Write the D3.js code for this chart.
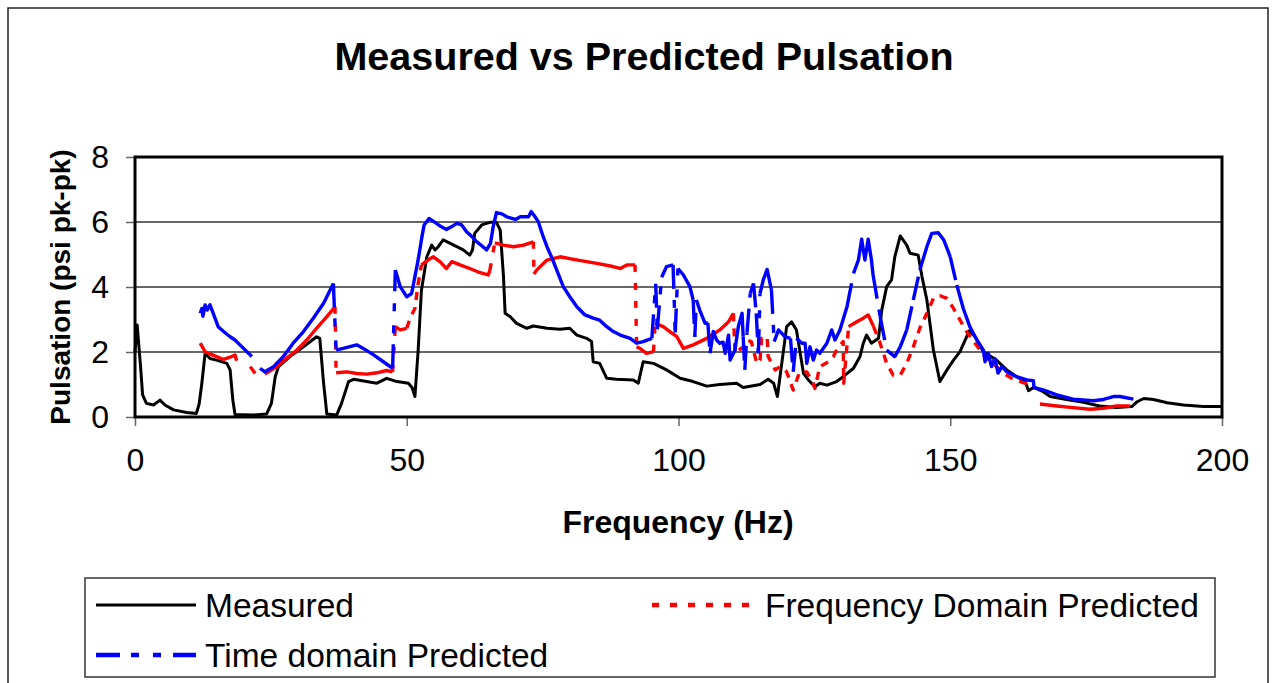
<!DOCTYPE html>
<html lang="en">
<head>
<meta charset="UTF-8">
<title>Measured vs Predicted Pulsation</title>
<script src="https://cdnjs.cloudflare.com/ajax/libs/d3/7.8.5/d3.min.js"></script>
<style>
  body { margin: 0; padding: 0; background: #fff; overflow: hidden; }
  svg { display: block; font-family: Arial, "Liberation Sans", sans-serif; }
</style>
</head>
<body>
<svg id="chart" width="1277" height="683"></svg>
<script>
  // [frequency Hz, pulsation psi pk-pk]; null value = break in the series
  const measured = [
    [0,2.0],[0.4,2.83],[1.0,1.6],[1.4,0.68],[2.1,0.42],[3.4,0.37],[4.6,0.52],[5.5,0.37],[7.1,0.22],
    [9.5,0.14],[11.3,0.11],[11.8,0.4],[12.3,1.04],[12.9,1.96],[13.8,1.8],[15.0,1.75],[16.9,1.65],
    [17.5,1.45],[18.0,0.52],[18.4,0.08],[21.8,0.06],[24.2,0.09],[25.1,0.42],[25.8,1.24],[26.4,1.55],
    [28.5,1.86],[31.0,2.16],[33.4,2.47],[34.0,2.42],[34.7,1.04],[35.3,0.09],[37.1,0.06],[38.0,0.42],
    [39.3,1.09],[40.2,1.16],[42.6,1.09],[44.5,1.04],[46.3,1.19],[48.2,1.09],[50.3,1.04],[51.0,0.9],
    [51.5,0.63],[52.1,2.06],[52.7,3.9],[53.7,4.93],[54.6,5.29],[55.2,5.14],[55.8,5.24],[56.7,5.45],
    [58.0,5.34],[59.2,5.24],[60.4,5.14],[61.6,4.98],[62.1,5.14],[62.5,5.65],[63.8,5.91],[65.3,5.99],
    [66.5,5.99],[67.2,5.75],[67.8,4.32],[68.1,3.19],[69.0,3.09],[70.2,2.88],[72.1,2.73],[73.3,2.8],
    [75.8,2.73],[78.2,2.7],[80.0,2.73],[81.3,2.52],[83.1,2.42],[84.0,2.32],[84.3,1.7],[85.5,1.65],
    [86.8,1.19],[88.6,1.16],[91.7,1.14],[92.6,1.04],[93.5,1.7],[95.4,1.65],[97.8,1.45],[100.3,1.19],
    [102.7,1.09],[105.2,0.95],[107.6,1.0],[110.7,1.04],[111.9,0.91],[115.0,1.0],[116.5,1.16],
    [117.5,1.04],[118.2,0.63],[119.0,1.65],[119.9,2.78],[120.8,2.93],[121.7,2.68],[122.3,2.06],
    [123.0,1.34],[123.9,1.14],[125.1,0.93],[126.0,1.04],[127.3,0.98],[129.1,1.09],[130.3,1.24],
    [132.2,1.5],[133.4,1.86],[134.0,2.27],[134.6,2.52],[135.5,2.27],[136.8,2.42],[137.4,3.29],
    [138.3,4.01],[139.2,4.22],[139.8,4.93],[140.8,5.57],[142.0,5.29],[142.6,5.04],[144.1,4.98],
    [144.8,4.32],[145.7,3.6],[146.9,2.06],[148.1,1.09],[149.4,1.45],[150.6,1.75],[151.8,2.01],
    [153.5,2.65],[154.6,2.47],[156.1,2.01],[158.5,1.75],[160.4,1.45],[162.2,1.24],[163.8,1.09],
    [164.4,0.81],[165.3,0.91],[167.1,0.78],[168.4,0.63],[171.4,0.54],[174.5,0.45],[177.5,0.34],
    [180.6,0.29],[183.4,0.32],[184.4,0.47],[185.6,0.57],[187.4,0.54],[189.9,0.44],[192.9,0.37],
    [196.6,0.32],[200,0.32]
  ];

  const freqPredicted = [
    [12.0,2.27],[12.9,2.01],[13.8,1.94],[15.0,1.86],[16.3,1.77],[17.5,1.84],[18.4,1.91],[18.7,1.73],
    [19.5,null],[21.2,1.55],[22.1,1.34],[23.0,null],
    [23.9,1.32],[26.1,1.55],[27.9,1.81],[29.8,2.06],[31.6,2.37],[33.4,2.73],[35.3,3.09],[36.8,3.39],
    [37.0,1.36],[39.0,1.39],[40.8,1.34],[42.6,1.32],[44.5,1.36],[46.3,1.43],[47.4,1.39],[47.9,2.78],
    [48.8,2.68],[50.0,2.73],[50.6,3.04],[51.5,3.34],[52.1,4.11],[52.7,4.68],[53.9,4.83],[54.9,4.93],
    [56.1,4.78],[57.3,4.57],[58.3,4.78],[59.8,4.68],[61.6,4.57],[63.5,4.44],[65.0,4.37],[65.3,4.52],
    [66.2,5.36],[67.8,5.29],[69.6,5.24],[71.5,5.29],[73.3,5.39],[73.4,4.4],[73.9,4.52],[75.8,4.83],
    [78.2,4.93],[80.7,4.85],[83.1,4.78],[85.5,4.71],[87.9,4.63],[89.3,4.57],[90.5,4.68],[92.0,4.68],
    [92.3,2.16],[93.0,2.1],[94.1,1.96],[95.4,2.01],[95.7,2.88],[97.2,2.78],[98.4,2.63],[99.7,2.47],
    [100.9,2.11],[102.7,2.22],[105.2,2.42],[107.6,2.68],[109.2,2.93],[110.1,3.19],[110.4,1.96],
    [111.9,2.16],[112.5,2.37],[113.4,2.32],[114.4,1.65],[115.0,1.75],[115.3,2.42],[116.3,2.47],
    [116.5,1.86],[117.8,1.45],[118.7,1.55],[119.9,1.39],[121.1,0.83],[122.3,1.39],[123.6,1.39],
    [124.8,1.04],[125.1,0.88],[126.0,1.55],[127.6,1.7],[128.5,1.86],[129.1,2.06],[130.3,2.32],
    [130.4,1.04],[131.3,2.78],[132.8,2.93],[134.0,3.04],[134.9,3.14],[135.9,2.78],[137.1,2.27],
    [138.3,1.65],[139.5,1.29],[140.8,1.29],[142.0,1.65],[143.2,2.16],[144.4,2.73],[145.7,3.19],
    [146.9,3.65],[148.1,3.73],[149.4,3.65],[150.6,3.34],[151.8,2.98],[153.0,2.63],[154.3,2.32],
    [155.5,2.06],[156.1,1.91],[157.9,1.65],[159.8,1.34],[161.6,1.16],[163.4,1.06],[164.9,0.98],
    [165.7,null],[166.5,0.4],[169.6,0.34],[172.6,0.29],[175.7,0.24],[178.2,0.27],[180.6,0.34],[183.1,0.34]
  ];

  const timePredicted = [
    [12.0,3.19],[12.3,3.34],[12.5,3.1],[12.9,3.45],[13.3,3.29],[13.8,3.45],[14.4,3.19],[15.3,2.78],
    [16.3,2.63],[17.5,2.47],[18.4,2.37],[19.3,2.22],[20.6,2.01],[21.5,1.86],[22.2,null],
    [23.0,1.5],[23.9,1.39],[25.5,1.55],[27.3,1.86],[29.1,2.27],[31.0,2.63],[32.8,3.04],[34.7,3.5],
    [36.5,4.11],[37.0,2.06],[38.3,2.11],[40.8,2.22],[42.0,2.11],[43.9,1.91],[45.7,1.7],[47.4,1.5],
    [47.9,4.52],[48.8,4.01],[50.0,3.7],[50.9,3.8],[51.5,4.32],[52.0,4.75],[52.4,5.14],[52.8,5.55],
    [53.2,5.91],[54.1,6.11],[55.0,6.01],[56.3,5.86],[57.3,5.77],[58.3,5.86],[59.2,5.96],[60.1,5.91],
    [61.0,5.7],[62.0,5.55],[62.9,5.39],[63.8,5.27],[64.7,5.14],[65.4,5.34],[65.9,5.85],[66.5,6.29],
    [67.5,6.25],[68.4,6.16],[70.0,6.08],[70.9,6.16],[72.4,6.16],[72.9,6.32],[73.6,6.16],[74.2,6.01],
    [75.0,5.6],[75.8,5.24],[76.7,4.9],[77.6,4.52],[78.8,4.01],[80.0,3.7],[81.3,3.39],[82.8,3.14],
    [84.3,3.04],[85.5,2.98],[86.8,2.78],[88.0,2.63],[89.3,2.52],[91.1,2.42],[92.3,2.27],[93.5,2.32],
    [95.1,2.42],[95.8,4.1],[96.1,2.7],[96.9,4.3],[97.8,4.63],[99.0,4.68],[99.4,2.6],[99.9,4.57],
    [100.9,4.37],[102.1,4.01],[102.7,3.6],[103.0,2.47],[103.3,3.6],[103.9,3.29],[104.9,2.88],
    [105.4,2.9],[105.8,1.96],[106.4,2.63],[107.0,2.37],[107.6,2.27],[108.2,2.3],[108.6,1.96],
    [109.2,2.52],[109.5,1.75],[110.4,2.06],[111.0,2.78],[111.7,3.19],[111.9,2.47],[112.2,1.45],
    [112.6,2.6],[113.2,3.8],[113.8,4.11],[114.3,3.19],[114.7,1.96],[115.0,3.8],[115.6,4.22],
    [116.3,4.54],[117.1,3.91],[117.6,2.32],[118.4,2.68],[119.6,2.47],[120.6,2.42],[121.1,1.39],
    [121.7,2.42],[122.7,2.27],[123.3,2.27],[123.6,1.65],[124.2,2.16],[124.8,1.75],[125.4,2.06],
    [126.0,1.96],[127.3,2.27],[128.2,2.68],[128.8,2.37],[129.7,2.68],[131.0,3.39],[132.2,4.42],
    [133.1,4.83],[133.7,5.47],[134.3,4.83],[134.9,5.47],[135.5,4.83],[135.8,4.37],[137.1,3.09],
    [138.3,2.06],[139.8,1.86],[140.8,2.16],[142.0,2.68],[143.2,3.6],[144.4,4.52],[145.7,5.24],
    [146.6,5.65],[147.8,5.67],[148.8,5.45],[150.0,4.93],[151.2,4.06],[152.4,3.34],[153.6,2.78],
    [154.9,2.37],[156.1,2.06],[156.4,1.7],[157.0,1.96],[157.6,1.55],[158.2,1.8],[158.8,1.35],
    [159.5,1.55],[160.4,1.39],[162.2,1.24],[164.1,1.14],[165.3,1.12],[165.4,0.91],[167.2,0.83],
    [169.6,0.68],[172.6,0.55],[176.3,0.5],[178.2,0.54],[180.0,0.63],[181.2,0.63],[183.7,0.55]
  ];

  const xTicks = [0, 50, 100, 150, 200];
  const yTicks = [0, 2, 4, 6, 8];
  const legendLabels = ["Measured", "Frequency Domain Predicted", "Time domain Predicted"];

  // stretches where the red series shows as dots in the original
  const redDottedRanges = [[50.3, 52.8], [110.0, 131.5], [135.5, 165.0]];

  const svg = d3.select("#chart");
  const plot = { left: 135, right: 1222, top: 157, bottom: 417 };

  const x = d3.scaleLinear().domain([0, 200]).range([plot.left, plot.right]);
  const y = d3.scaleLinear().domain([0, 8]).range([plot.bottom, plot.top]);

  // outer chart frame
  svg.append("rect")
    .attr("x", 8).attr("y", 8).attr("width", 1260).attr("height", 700)
    .attr("fill", "#fff").attr("stroke", "#222").attr("stroke-width", 1.5);

  // title
  svg.append("text")
    .attr("x", 644).attr("y", 70)
    .attr("text-anchor", "middle")
    .attr("font-size", 39.5).attr("font-weight", "bold")
    .text("Measured vs Predicted Pulsation");

  // gridlines
  svg.append("g")
    .selectAll("line")
    .data(yTicks.filter(d => d > 0 && d < 8))
    .join("line")
    .attr("x1", plot.left).attr("x2", plot.right)
    .attr("y1", d => y(d)).attr("y2", d => y(d))
    .attr("stroke", "#333").attr("stroke-width", 1.5);

  // axes
  const xAxis = svg.append("g")
    .attr("transform", `translate(0,${plot.bottom})`)
    .call(d3.axisBottom(x).tickValues(xTicks).tickSize(9).tickPadding(22));
  const yAxis = svg.append("g")
    .attr("transform", `translate(${plot.left},0)`)
    .call(d3.axisLeft(y).tickValues(yTicks).tickSize(9).tickPadding(17));
  [xAxis, yAxis].forEach(g => {
    g.select(".domain").remove();
    g.selectAll(".tick line").attr("stroke", "#666").attr("stroke-width", 1.5);
    g.selectAll(".tick text")
      .attr("font-size", 32).attr("fill", "#000")
      .attr("font-family", "Arial, 'Liberation Sans', sans-serif");
  });

  // axis titles
  svg.append("text")
    .attr("x", 678).attr("y", 533)
    .attr("text-anchor", "middle")
    .attr("font-size", 32).attr("font-weight", "bold")
    .text("Frequency (Hz)");
  svg.append("text")
    .attr("transform", "translate(70,287) rotate(-90)")
    .attr("text-anchor", "middle")
    .attr("font-size", 28).attr("font-weight", "bold")
    .text("Pulsation (psi pk-pk)");

  // series drawing: pattern restarts on each long segment, like the spreadsheet renderer
  const line = d3.line().x(d => x(d[0])).y(d => y(d[1]));
  const longSeg = 26;

  function drawSeries(pts, color, width, dash, ranges) {
    const g = svg.append("g").attr("fill", "none").attr("stroke", color)
      .attr("stroke-width", width).attr("stroke-linejoin", "round");
    const runs = [];
    let cur = [];
    pts.forEach(p => {
      if (p[1] == null) { if (cur.length) runs.push(cur); cur = []; }
      else cur.push(p);
    });
    if (cur.length) runs.push(cur);

    runs.forEach(run => {
      let group = null;
      const flush = () => {
        if (!group) return;
        const p = g.append("path").attr("d", line(group.pts));
        if (group.type === "range") p.attr("stroke-dasharray", "8,7");
        group = null;
      };
      for (let i = 1; i < run.length; i++) {
        const a = run[i - 1], b = run[i];
        const len = Math.hypot(x(b[0]) - x(a[0]), y(b[1]) - y(a[1]));
        const mid = (a[0] + b[0]) / 2;
        let type = "solid";
        if (ranges && ranges.some(r => mid >= r[0] && mid <= r[1])) type = "range";
        else if (dash && len > longSeg) type = "long";
        if (type === "long") {
          flush();
          g.append("path").attr("d", line([a, b])).attr("stroke-dasharray", dash)
            .attr("stroke-linecap", "butt");
          continue;
        }
        if (group && group.type === type) group.pts.push(b);
        else { flush(); group = { type, pts: [a, b] }; }
      }
      flush();
    });
  }

  const styles = [
    { color: "#000", width: 3, dash: null },
    { color: "#ff0000", width: 3.4, dash: "7,11" },
    { color: "#0000ff", width: 3.4, dash: "24,11,8,14,8,12" }
  ];

  drawSeries(measured, styles[0].color, styles[0].width, null, null);
  drawSeries(freqPredicted, styles[1].color, styles[1].width, styles[1].dash, redDottedRanges);
  drawSeries(timePredicted, styles[2].color, styles[2].width, styles[2].dash, null);

  // plot frame
  svg.append("rect")
    .attr("x", plot.left).attr("y", plot.top)
    .attr("width", plot.right - plot.left).attr("height", plot.bottom - plot.top)
    .attr("fill", "none").attr("stroke", "#000").attr("stroke-width", 3);

  // legend
  const legend = svg.append("g");
  legend.append("rect")
    .attr("x", 85).attr("y", 578).attr("width", 1130).attr("height", 99)
    .attr("fill", "#fff").attr("stroke", "#333").attr("stroke-width", 1.5);
  const legendPos = [
    { x1: 96, x2: 196, tx: 205, yy: 605 },
    { x1: 652, x2: 758, tx: 765, yy: 605 },
    { x1: 96, x2: 196, tx: 205, yy: 655 }
  ];
  legendLabels.forEach((label, i) => {
    const p = legendPos[i], s = styles[i];
    legend.append("line")
      .attr("x1", p.x1).attr("x2", p.x2).attr("y1", p.yy).attr("y2", p.yy)
      .attr("stroke", s.color).attr("stroke-width", i === 0 ? 3 : 4.5)
      .attr("stroke-dasharray", s.dash);
    legend.append("text")
      .attr("x", p.tx).attr("y", p.yy + 12)
      .attr("font-size", 33.5)
      .text(label);
  });
</script>
</body>
</html>
